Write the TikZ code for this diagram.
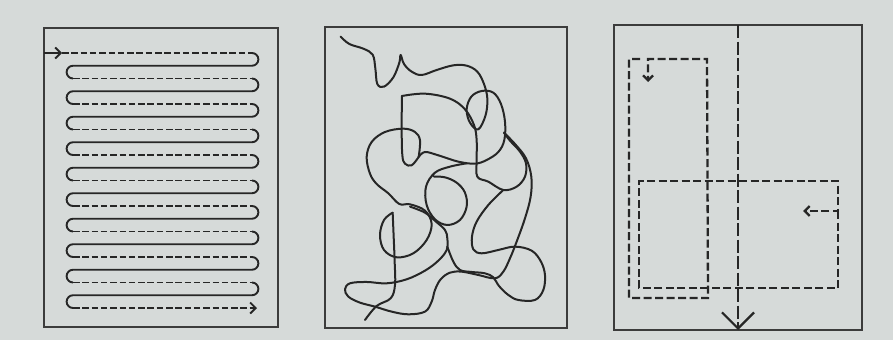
\documentclass[tikz,border=0pt]{standalone}
\usepackage{tikz}
\usetikzlibrary{arrows.meta, calc}

\definecolor{paper}{RGB}{214,218,217}
\definecolor{ink}{RGB}{38,38,38}

\begin{document}
\begin{tikzpicture}[x=1pt, y=-1pt,
    frame/.style={draw=ink!90, line width=1.2pt},
    track/.style={ink, line width=1.9pt},
    dashtrack/.style={track, dash pattern=on 6.5pt off 2.8pt},
    scribble/.style={ink, line width=2pt, line cap=round, line join=round},
    route/.style={ink, line width=2.3pt, dash pattern=on 8pt off 3.5pt},
    axis/.style={ink, line width=1.5pt, dash pattern=on 13pt off 3.5pt},
    barb/.style={-{Straight Barb[length=#1, width=2*#1]}}]

    % =================================================================
    % 0. NEN VA KHUNG
    % =================================================================
    \fill[paper] (0,0) rectangle (893,340);
    \useasboundingbox (0,0) rectangle (893,340);

    \coordinate (P1a) at (44,28);  \coordinate (P1b) at (278,327);
    \coordinate (P2a) at (325,27); \coordinate (P2b) at (567,328);
    \coordinate (P3a) at (614,25); \coordinate (P3b) at (862,330);

    \draw[frame] (P1a) rectangle (P1b);
    \draw[frame] (P2a) rectangle (P2b);
    \draw[frame] (P3a) rectangle (P3b);

    % =================================================================
    % 1. HINH 1: DUONG ZIC-ZAC
    % =================================================================
    \draw[track, barb=5.5pt] (44,53) -- (62,53);
    \draw[dashtrack] (62,53) -- (252,53);
    \foreach \k in {0,...,9} {
        \pgfmathsetmacro\ya{53+2*\k*12.75}
        \pgfmathsetmacro\yb{\ya+12.75}
        \pgfmathsetmacro\yc{\ya+25.5}
        \draw[track] (252,\ya) arc[start angle=90, end angle=-90, radius=6.375pt]
            -- (73,\yb) arc[start angle=90, end angle=270, radius=6.375pt];
        \ifnum\k<9 \draw[dashtrack] (73,\yc) -- (252,\yc); \fi
    }
    \draw[dashtrack, barb=5.5pt] (73,308) -- (257,308);

    % =================================================================
    % 2. HINH 2: DUONG NGAU NHIEN
    % =================================================================
    \begin{scope}[shift={(310,20)}, x=0.3333pt, y=-0.3333pt]
        % nhanh tren cung -> vong nho -> cung phai -> cham
        \draw[scribble] plot[smooth, tension=0.6] coordinates {
            (92,50) (118,72) (160,86) (188,104) (196,145) (202,192) (222,200)
            (250,172) (268,128) (272,105) (282,132) (305,155) (335,165)
            (380,150) (430,136) (470,137) (502,155) (522,192) (532,235)
            (527,285) (505,328) (480,308) (470,268) (484,230) (515,213)
            (550,218) (573,252) (585,305) (583,360) (565,396) (530,420)
            (495,431) (445,425) (385,406) (345,396) (326,411)};
        % vong lon ben trai -> vong duoi trai
        \draw[scribble] plot[smooth, tension=0.6] coordinates {
            (326,411) (330,361) (315,336) (280,326) (225,336) (185,366)
            (170,411) (180,461) (200,492) (235,520) (268,552) (300,553)
            (345,572) (365,612) (350,660) (310,700) (260,712) (222,690)
            (210,645) (222,600) (248,578)};
        % duong thang xuong -> dau cuoi
        \draw[scribble] plot[smooth, tension=0.6] coordinates {
            (248,578) (251,650) (254,725) (255,795) (242,835) (200,858) (165,900)};
        % chu D
        \draw[scribble] plot[smooth, tension=0.6] coordinates {
            (326,411) (305,436) (285,431) (277,405) (275,320) (276,228)};
        \draw[scribble] plot[smooth, tension=0.6] coordinates {
            (276,228) (345,221) (420,236) (465,268) (492,315) (500,360)
            (500,420) (502,470) (535,485) (580,510) (620,500) (645,470)
            (648,430) (630,395) (600,362) (582,338)};
        % net dam ben phai -> vong duoi
        \draw[scribble] plot[smooth, tension=0.6] coordinates {
            (582,338) (615,372) (648,415) (664,470) (662,530) (645,595)
            (620,665) (600,715) (580,755) (555,775) (505,765) (455,755)
            (420,758) (392,778) (375,810) (365,845) (345,875) (295,883)
            (245,875) (195,860) (150,848) (115,830) (105,808) (120,790)
            (170,786) (230,790) (290,778) (345,752) (385,722) (410,690)
            (412,655) (405,630) (378,605) (345,578) (300,560)};
        % vong ben phai duoi
        \draw[scribble] plot[smooth, tension=0.6] coordinates {
            (412,680) (430,725) (450,750) (485,756) (525,760) (550,772)
            (567,798) (595,825) (625,840) (675,840) (700,810) (705,765)
            (693,725) (665,692) (615,680) (565,690) (515,700) (490,688)
            (486,650) (500,605) (535,555) (580,510)};
        % vong giua
        \draw[scribble] plot[smooth, tension=0.6] coordinates {
            (470,430) (420,440) (375,458) (348,500) (350,555) (375,598)
            (412,615) (450,600) (470,560) (465,518) (440,488) (405,472) (372,470)};
    \end{scope}

    % =================================================================
    % 3. HINH 3: CAC VONG CHU NHAT
    % =================================================================
    \coordinate (Top) at (738,25);
    \coordinate (Bot) at (738,330);
    \draw[axis, -{Straight Barb[length=16pt, width=32pt, line width=2.2pt]}] (Top) -- (Bot);

    % vong doc ben trai
    \draw[route, barb=5pt] (640,59) -- (629,59) -- (629,298) -- (708,298)
        -- (707,59) -- (648,59) -- (648,82);

    % vong ngang phia duoi
    \draw[route, barb=5pt] (838,211) -- (838,288) -- (639,288) -- (639,181)
        -- (838,181) -- (838,211) -- (803,211);

\end{tikzpicture}
\end{document}
